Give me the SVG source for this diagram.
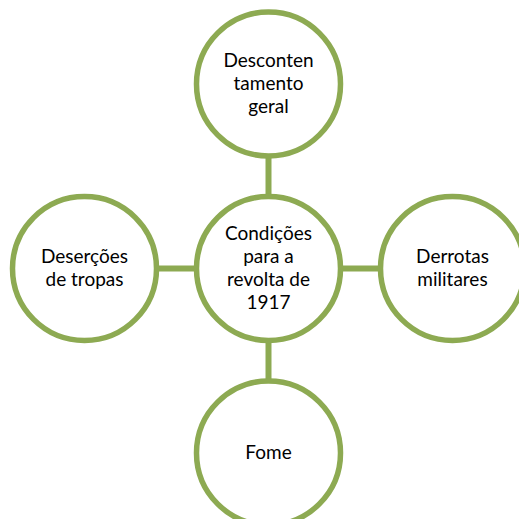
<svg xmlns="http://www.w3.org/2000/svg" width="519" height="519" viewBox="0 0 519 519">
<style>
.node{fill:#ffffff;stroke:#8DAA52;stroke-width:5.5}
.conn{stroke:#8DAA52;stroke-width:6;fill:none}
text{font-family:Lato,"Liberation Sans",sans-serif;font-size:19px;fill:#000;text-anchor:middle}
</style>
<rect width="519" height="519" fill="#ffffff"/>
<g id="connectors">
<line class="conn" x1="268.5" y1="155" x2="268.5" y2="198"/>
<line class="conn" x1="268.5" y1="340" x2="268.5" y2="383"/>
<line class="conn" x1="156" y1="268.5" x2="197" y2="268.5"/>
<line class="conn" x1="340" y1="268.5" x2="381" y2="268.5"/>
</g>
<g id="center">
<circle class="node" cx="268.5" cy="268.5" r="72"/>
<text x="268.5" y="240">Condições</text>
<text x="268.5" y="263">para a</text>
<text x="268.5" y="286">revolta de</text>
<text x="268.5" y="309">1917</text>
</g>
<g id="top">
<circle class="node" cx="268.5" cy="84" r="72"/>
<text x="268.5" y="67">Desconten</text>
<text x="268.5" y="90">tamento</text>
<text x="268.5" y="113">geral</text>
</g>
<g id="left">
<circle class="node" cx="84.5" cy="268.5" r="72"/>
<text x="84.5" y="263">Deserções</text>
<text x="84.5" y="286">de tropas</text>
</g>
<g id="right">
<circle class="node" cx="452.5" cy="268.5" r="72"/>
<text x="452.5" y="263">Derrotas</text>
<text x="452.5" y="286">militares</text>
</g>
<g id="bottom">
<circle class="node" cx="268.5" cy="453" r="72"/>
<text x="268.5" y="459">Fome</text>
</g>
</svg>
